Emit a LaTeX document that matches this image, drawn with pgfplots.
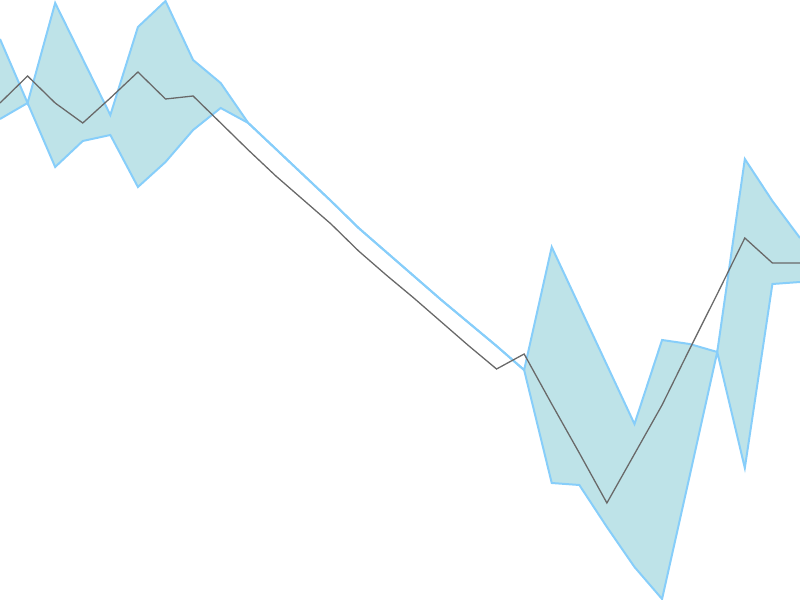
\documentclass[border=0pt]{standalone}
\usepackage{pgfplots}
\pgfplotsset{compat=1.18}
\usepgfplotslibrary{fillbetween}
\definecolor{bandfill}{RGB}{190,227,232}
\definecolor{bandedge}{RGB}{135,206,250}
\definecolor{meanline}{RGB}{105,105,105}
% values are read in picture units (0 = top edge, 600 = bottom edge)
\pgfplotstableread{
x upper lower mean
0  39 119 103
1 103 103  76
2   3 167 103
3  59 141 123
4 115 135  98
5  27 187  72
6   1 162  99
7  60 130  96
8  83 108 123
9 123 123 150
10 149 149 176
11 175 175 200
12 201 201 224
13 228 228 251
14 252 252 275
15 276 276 298
16 300 300 322
17 323 323 346
18 346 346 369
19 370 370 354
20 247 483 404
21 306 485 453
22 365 527 503
23 424 567 454
24 340 599 405
25 344 476 349
26 352 352 294
27 159 468 238
28 201 284 263
29 238 282 263
}\bandtable
\begin{document}
\begin{tikzpicture}
  \begin{axis}[
      scale only axis,
      width=12cm, height=9cm,
      xmin=0, xmax=29,
      ymin=0, ymax=600,
      y dir=reverse,
      hide axis
    ]
    \addplot[name path=upper, draw=none] table[x=x, y=upper] {\bandtable};
    \addplot[name path=lower, draw=none] table[x=x, y=lower] {\bandtable};
    \addplot[fill=bandfill, draw=none] fill between[of=upper and lower];
    \addplot[draw=bandedge, line width=0.85pt] table[x=x, y=upper] {\bandtable};
    \addplot[draw=bandedge, line width=0.85pt] table[x=x, y=lower] {\bandtable};
    \addplot[draw=meanline, line width=0.55pt] table[x=x, y=mean] {\bandtable};
  \end{axis}
  \pgfresetboundingbox
  \path[use as bounding box] (current axis.south west) rectangle (current axis.north east);
\end{tikzpicture}
\end{document}
